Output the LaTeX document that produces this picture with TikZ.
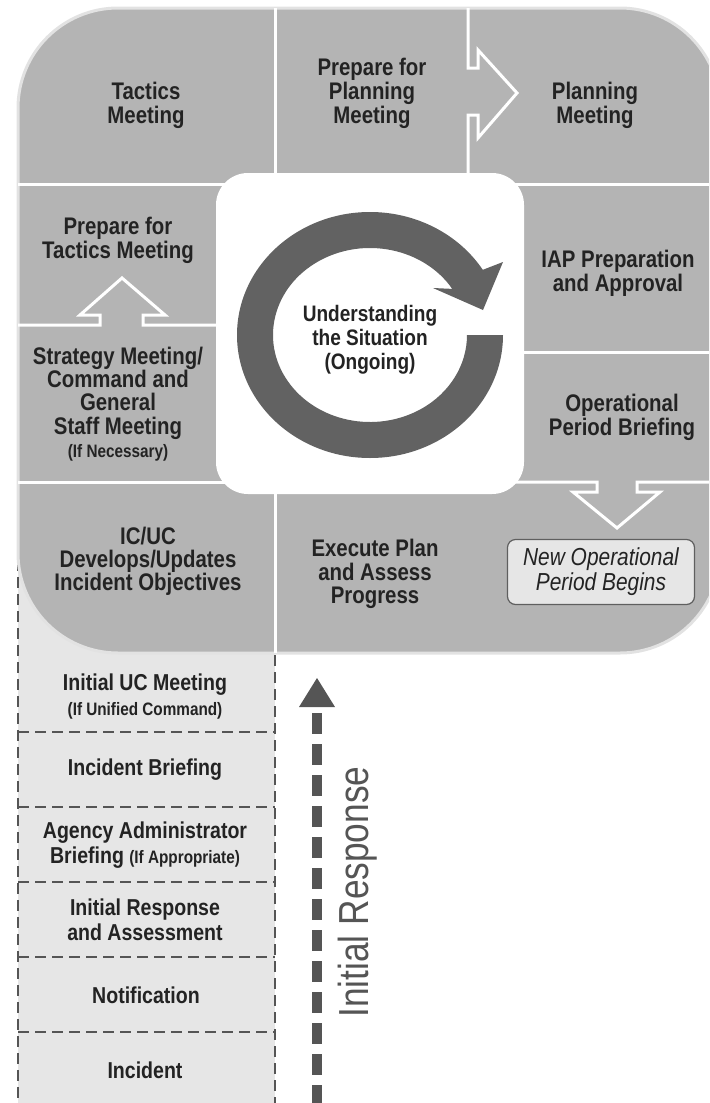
\documentclass[tikz,border=0pt]{standalone}
\usepackage{fontspec}
\newfontfamily\labf{Liberation Sans}[FakeStretch=0.85]
\newfontfamily\irf{Liberation Sans}[FakeStretch=0.84]
\usetikzlibrary{calc}
\definecolor{tilegray}{RGB}{180,180,180}
\definecolor{rimgray}{RGB}{226,226,226}
\definecolor{lowgray}{RGB}{230,230,230}
\definecolor{ringgray}{RGB}{98,98,98}
\definecolor{dashgray}{RGB}{85,85,85}
\definecolor{txt}{RGB}{35,35,35}
\definecolor{boxedge}{RGB}{95,95,95}
\begin{document}
\begin{tikzpicture}[x=0.5pt,y=-0.5pt,
  sepline/.style={draw=white,line width=1.5pt,line join=miter},
  lowdash/.style={draw=dashgray,line width=0.8pt,dash pattern=on 5.5pt off 3pt},
  lbl/.style={align=center,inner sep=0pt,text=txt,font=\labf\bfseries\fontsize{12}{12}\selectfont},
  lowlbl/.style={align=center,inner sep=0pt,text=txt,font=\labf\bfseries\fontsize{11.5}{12.5}\selectfont},
  newbox/.style={align=center,inner sep=0pt,text=txt,fill=lowgray,draw=boxedge,line width=0.6pt,
    rounded corners=4pt,minimum width=93.5pt,minimum height=32.5pt,font=\labf\itshape\fontsize{12.3}{12.5}\selectfont},
  irline/.style={draw=dashgray,line width=5pt,dash pattern=on 10.5pt off 5pt}]
\useasboundingbox (0,0) rectangle (709,1103);
\clip (0,0) rectangle (709,1103);
% lower (initial response) column
\fill[lowgray] (18,560) rectangle (275,1110);
\draw[lowdash] (18,560) -- (18,1110);
\draw[lowdash] (275,655) -- (275,1110);
\foreach \yy in {732,807,882,957,1032} \draw[lowdash] (18,\yy) -- (275,\yy);
% big rounded panel
\draw[fill=tilegray,draw=rimgray,line width=1.5pt,rounded corners=50pt] (18,8) rectangle (720,653);
% separators
\draw[sepline] (275,8) -- (275,180);
\draw[sepline] (468,8) -- (468,68) -- (478,68) -- (478,50) -- (517,93) -- (478,138) -- (478,115) -- (468,115) -- (468,180);
\draw[sepline] (18,184) -- (240,184);
\draw[sepline] (500,184) -- (720,184);
\draw[sepline] (18,325) -- (100,325) -- (100,315) -- (80,315) -- (122,278) -- (165,315) -- (143,315) -- (143,325) -- (240,325);
\draw[sepline] (18,482) -- (240,482);
\draw[sepline] (500,352) -- (720,352);
\draw[sepline] (500,482) -- (597,482) -- (597,492) -- (573,492) -- (617,528) -- (660,492) -- (637,492) -- (637,482) -- (720,482);
\draw[sepline] (275,480) -- (275,653);
% central white box
\fill[white,rounded corners=16pt] (216,173) rectangle (524,494);
% circular arrow
\coordinate (cc) at (370,335);
\fill[ringgray] ($(cc)+(0:66.5pt and 61.5pt)$)
  arc[start angle=0,end angle=-328,x radius=66.5pt,y radius=61.5pt]
  -- (503,262) -- (483,310) -- (433,288)
  -- ($(cc)+(32:48.5pt and 43.5pt)$)
  arc[start angle=32,end angle=360,x radius=48.5pt,y radius=43.5pt] -- cycle;
\node[lbl,font=\labf\bfseries\fontsize{11.2}{12}\selectfont] (under) at (370,340) {Understanding\\the Situation\\(Ongoing)};
% tile labels
\node[lbl] (tactics) at (146,105) {Tactics\\Meeting};
\node[lbl] (prepplan) at (372,93) {Prepare for\\Planning\\Meeting};
\node[lbl] (planning) at (595,105) {Planning\\Meeting};
\node[lbl] (preptac) at (118,240) {Prepare for\\Tactics Meeting};
\node[lbl,font=\labf\bfseries\fontsize{12}{11.6}\selectfont] (strategy) at (118,404) {Strategy Meeting/\\Command and\\General\\Staff Meeting\\{\fontsize{9}{11.5}\selectfont(If Necessary)}};
\node[lbl,font=\labf\bfseries\fontsize{12}{11.6}\selectfont] (icuc) at (148,561) {IC/UC\\Develops/Updates\\Incident Objectives};
\node[lbl] (iap) at (618,273) {IAP Preparation\\and Approval};
\node[lbl] (opbrief) at (622,417) {Operational\\Period Briefing};
\node[lbl,font=\labf\bfseries\fontsize{12}{11.6}\selectfont] (execute) at (375,574) {Execute Plan\\and Assess\\Progress};
\node[newbox] (newop) at (601,572) {New Operational\\Period Begins};
% lower labels
\node[lowlbl] (ucmeet) at (145,697) {Initial UC Meeting\\{\fontsize{9}{11}\selectfont(If Unified Command)}};
\node[lowlbl] (incbrief) at (145,770) {Incident Briefing};
\node[lowlbl] (agency) at (145,845) {Agency Administrator\\Briefing {\fontsize{9}{11}\selectfont(If Appropriate)}};
\node[lowlbl] (initresp) at (145,920) {Initial Response\\and Assessment};
\node[lowlbl] (notif) at (146,995) {Notification};
\node[lowlbl] (incident) at (145,1070) {Incident};
% initial response arrow
\coordinate (irtop) at (317,713);
\coordinate (irbot) at (317,1110);
\draw[irline] (irtop) -- (irbot);
\fill[dashgray] (299,707) -- (317,678) -- (335,707) -- cycle;
\node[rotate=90,inner sep=0pt,text=dashgray,font=\irf\fontsize{21}{21}\selectfont] (irlabel) at (358,892) {Initial Response};
\end{tikzpicture}
\end{document}
